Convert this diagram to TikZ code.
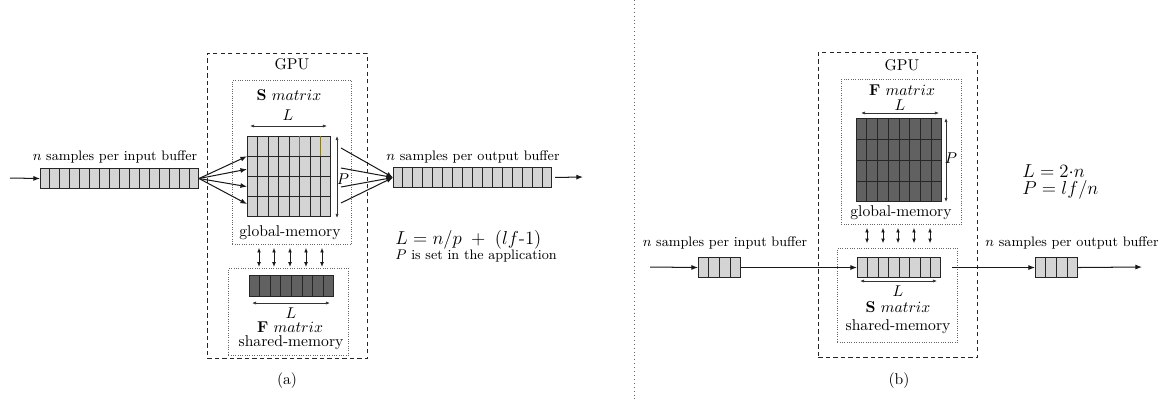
\documentclass[tikz,border=0pt]{standalone}
\usetikzlibrary{arrows.meta,calc}
\newlength\pxu \setlength\pxu{0.64pt}
\tikzset{
  buf/.style={draw=black!85, fill=black!17, line width=0.65pt, inner sep=0pt, anchor=north west},
  darkbuf/.style={buf, fill=black!62},
  gpubox/.style={draw=black!85, dash pattern=on 2.6pt off 2.2pt, line width=0.6pt, inner sep=0pt, anchor=north west},
  membox/.style={draw=black!60, densely dotted, line width=0.5pt, inner sep=0pt, anchor=north west},
  arr/.style={-{Latex[length=4.2pt,width=3.2pt]}, line width=0.65pt, draw=black!90},
  dimarr/.style={{Latex[length=2.6pt,width=2pt]}-{Latex[length=2.6pt,width=2pt]}, line width=0.45pt, draw=black!80},
  dblarr/.style={{Latex[length=3pt,width=2.4pt]}-{Latex[length=3pt,width=2.4pt]}, line width=0.55pt, draw=black!90},
  lbl/.style={font=\fontsize{8.8}{10}\selectfont, inner sep=0pt},
  txt/.style={font=\fontsize{10}{12}\selectfont, inner sep=0pt},
  frm/.style={font=\fontsize{12}{14}\selectfont, inner sep=0pt, anchor=west},
  cellline/.style={line width=0.65pt, draw=black!85},
}
\newcommand\cellsplit[3]{%
  \foreach \i in {1,...,#3}{\draw[cellline] ($(#1.north west)!\i/#2!(#1.north east)$) -- ($(#1.south west)!\i/#2!(#1.south east)$);}}
\newcommand\rowsplit[3]{%
  \foreach \i in {1,...,#3}{\draw[cellline] ($(#1.north west)!\i/#2!(#1.south west)$) -- ($(#1.north east)!\i/#2!(#1.south east)$);}}
\begin{document}
\begin{tikzpicture}[x=0.64pt,y=-0.64pt]
\useasboundingbox (0,0) rectangle (1173,399);

% ---------------- divider
\coordinate (divtop) at (634,0);
\coordinate (divbot) at (634,399);
\draw[dotted, black!60, line width=0.5pt] (divtop) -- (divbot);

% ================= panel (a)
\node[gpubox, minimum width=160*\pxu, minimum height=305*\pxu] (gpuA) at (207,53) {};
\node[txt] (gpuAlbl) at (292,64) {GPU};
\node[membox, minimum width=119*\pxu, minimum height=164*\pxu] (globA) at (232,80) {};
\node[membox, minimum width=120*\pxu, minimum height=87*\pxu] (sharedA) at (228,268) {};

\node[txt] (SlblA) at (289,95) {$\mathbf{S}\ matrix$};
\node[txt] (LtopA) at (288,115) {$L$};
\node[buf, minimum width=83*\pxu, minimum height=80*\pxu] (SmatA) at (247,136) {};
\cellsplit{SmatA}{8}{7}
\rowsplit{SmatA}{4}{3}
\draw[line width=0.65pt, draw={rgb,255:red,130;green,120;blue,40}] ($(SmatA.north west)!5/8!(SmatA.north east)$) -- ++(0,20);
\draw[line width=0.65pt, draw={rgb,255:red,130;green,120;blue,40}] ($(SmatA.north west)!7/8!(SmatA.north east)$) -- ++(0,20);
\draw[dimarr] ($(SmatA.north west)+(3,-10)$) -- ($(SmatA.north east)+(-4,-10)$);
\draw[dimarr] ($(SmatA.north east)+(6,0)$) -- ($(SmatA.south east)+(6,1)$);
\node[txt] (PlblA) at (343,179) {$P$};
\node[txt] (globlblA) at (290,233) {global-memory};

\node[darkbuf, minimum width=84*\pxu, minimum height=21*\pxu] (FrowA) at (249,275) {};
\cellsplit{FrowA}{8}{7}
\draw[dimarr] ($(FrowA.south west)+(3,6)$) -- ($(FrowA.south east)+(-4,6)$);
\node[txt] (LbotA) at (291,313) {$L$};
\node[txt] (FlblA) at (290,327) {$\mathbf{F}\ matrix$};
\node[txt] (sharedlblA) at (291,343) {shared-memory};

\foreach \x in {259,274,290,306,322}{
  \coordinate (tmp) at (\x,0);
  \draw[dblarr, shorten <=1.9pt, shorten >=0.7pt] (globA.south -| tmp) -- (sharedA.north -| tmp);
}

\node[buf, minimum width=158*\pxu, minimum height=20*\pxu] (inA) at (40,168) {};
\cellsplit{inA}{16}{15}
\node[buf, minimum width=158*\pxu, minimum height=20*\pxu] (outA) at (393,167) {};
\cellsplit{outA}{16}{15}
\node[lbl] (inlblA) at (115,157) {$n$ samples per input buffer};
\node[lbl] (outlblA) at (473,157) {$n$ samples per output buffer};

\coordinate (inAstart) at (10,178);
\coordinate (outAend) at (583,177);
\draw[arr] (inAstart) -- (inA.west);
\draw[arr, shorten <=2pt] (outA.east) -- (outAend);
\foreach \f in {0.25,0.41,0.625,0.84}
  \draw[arr] (inA.east) -- ($(SmatA.north west)!\f!(SmatA.south west)$);
\foreach \dy in {12,32,51,67}
  \draw[arr] ($(SmatA.north east)+(10,\dy)$) -- (outA.west);

\node[frm] (formA) at (395,239.5) {$L = n/p\;+\;(lf\mbox{-}1)$};
\node[lbl, anchor=west] (noteA) at (395,256) {$P$ is set in the application};
\node[txt] (capA) at (287,381) {(a)};

% ================= panel (b)
\node[gpubox, minimum width=159*\pxu, minimum height=305*\pxu] (gpuB) at (818,52) {};
\node[txt] (gpuBlbl) at (902,65) {GPU};
\node[membox, minimum width=120*\pxu, minimum height=145*\pxu] (globB) at (841,79) {};
\node[membox, minimum width=120*\pxu, minimum height=94*\pxu] (sharedB) at (837,248) {};

\node[txt] (FlblB) at (902,90) {$\mathbf{F}\ matrix$};
\node[txt] (LtopB) at (900,105.5) {$L$};
\node[darkbuf, minimum width=85*\pxu, minimum height=83*\pxu] (FmatB) at (856,118) {};
\cellsplit{FmatB}{8}{7}
\rowsplit{FmatB}{4}{3}
\draw[dimarr] ($(FmatB.north west)+(5,-5)$) -- ($(FmatB.north east)+(-3,-5)$);
\draw[dimarr] ($(FmatB.north east)+(4,0)$) -- ($(FmatB.south east)+(4,0)$);
\node[txt] (PlblB) at (951,158) {$P$};
\node[txt] (globlblB) at (901,213) {global-memory};

\node[buf, minimum width=83*\pxu, minimum height=20*\pxu] (SbufB) at (857,257) {};
\cellsplit{SbufB}{8}{7}
\draw[dimarr] ($(SbufB.south west)+(3,3)$) -- ($(SbufB.south east)+(-4,3)$);
\node[txt] (LbotB) at (898,291) {$L$};
\node[txt] (SlblB) at (898,307) {$\mathbf{S}\ matrix$};
\node[txt] (sharedlblB) at (898,327) {shared-memory};

\foreach \x in {867,883,898,914,930}{
  \coordinate (tmp) at (\x,0);
  \draw[dblarr, shorten <=1.9pt, shorten >=3pt] (globB.south -| tmp) -- (sharedB.north -| tmp);
}

\node[buf, minimum width=42*\pxu, minimum height=20*\pxu] (inB) at (698,257) {};
\cellsplit{inB}{4}{3}
\node[buf, minimum width=42*\pxu, minimum height=20*\pxu] (outB) at (1035,257) {};
\cellsplit{outB}{4}{3}
\node[lbl] (inlblB) at (725,243) {$n$ samples per input buffer};
\node[lbl] (outlblB) at (1072,243) {$n$ samples per output buffer};

\coordinate (inBstart) at (650,267);
\coordinate (outBend) at (1142,267);
\draw[arr] (inBstart) -- (inB.west);
\draw[arr] (inB.east) -- (SbufB.west);
\draw[arr, shorten <=7pt] (SbufB.east) -- (outB.west);
\draw[arr] (outB.east) -- (outBend);

\node[frm, font=\fontsize{11.5}{13}\selectfont] (formB1) at (1022,171) {$L = 2{\cdot}n$};
\node[frm, font=\fontsize{11.5}{13}\selectfont] (formB2) at (1022,190) {$P = lf/n$};
\node[txt] (capB) at (899,381) {(b)};
\end{tikzpicture}
\end{document}
